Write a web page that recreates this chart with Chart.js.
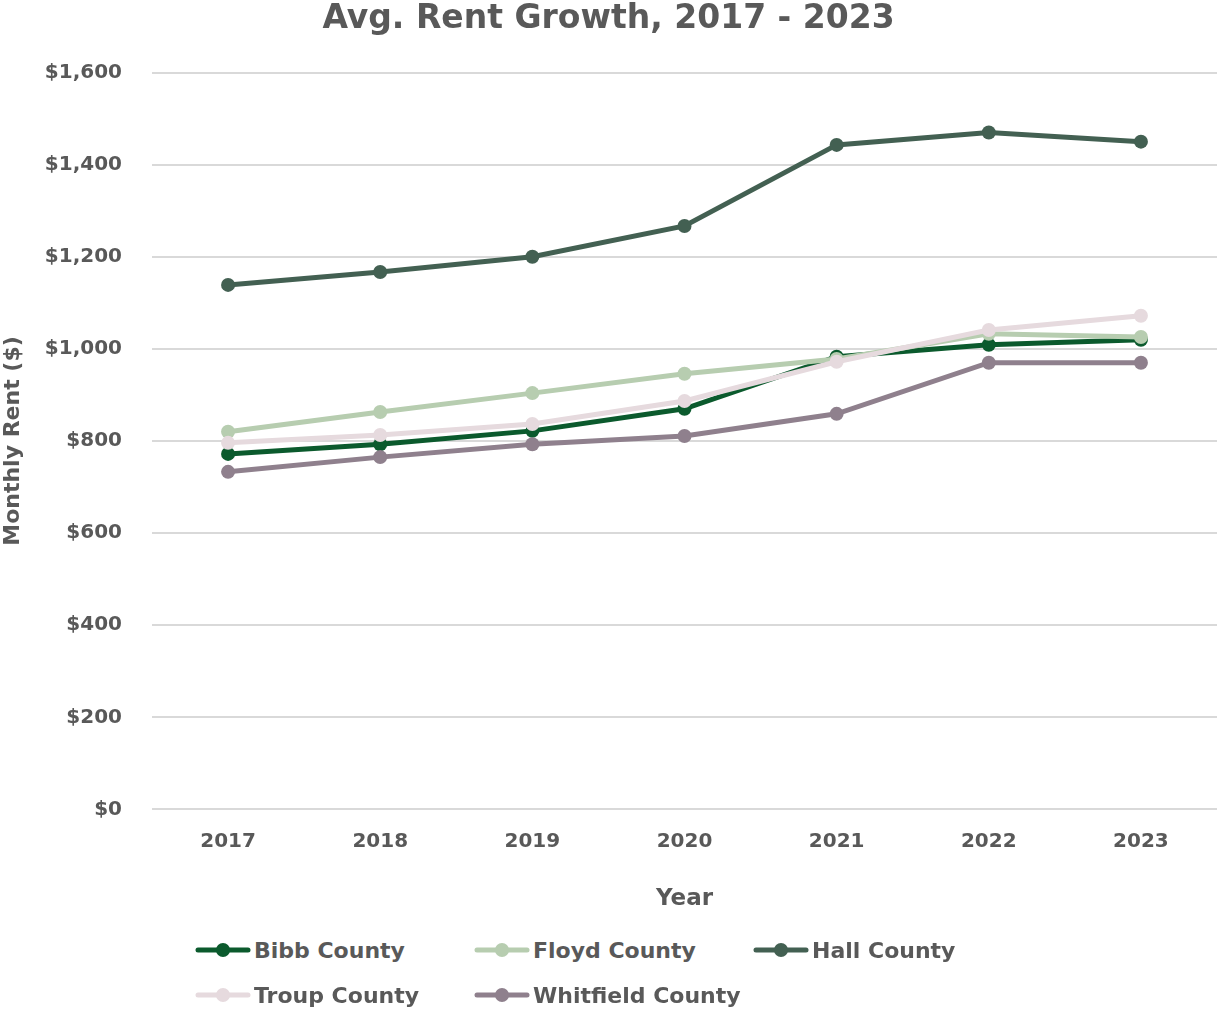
<!DOCTYPE html>
<html>
<head>
<meta charset="utf-8">
<script src="https://cdn.jsdelivr.net/npm/chart.js@4.4.1/dist/chart.umd.min.js"></script>
<style>
  html, body { margin: 0; padding: 0; background: #fff; overflow: hidden; }
  #wrap { position: relative; width: 1217px; height: 921px; }
  #legend {
    display: grid;
    grid-template-columns: 279px 279px 279px;
    row-gap: 13px;
    margin-left: 195px;
    margin-top: 13px;
    font-family: "DejaVu Sans", sans-serif;
    font-weight: 700;
    font-size: 22px;
    color: #595959;
  }
  #legend .item { display: flex; align-items: center; height: 32px; }
  #legend canvas { margin-right: 3px; }
</style>
</head>
<body>
<div id="wrap"><canvas id="rentChart"></canvas></div>
<div id="legend"></div>
<script>
const years = ['2017', '2018', '2019', '2020', '2021', '2022', '2023'];
const bibb = [772, 793, 822, 870, 983, 1009, 1020];
const floyd = [820, 863, 904, 946, 978, 1033, 1026];
const hall = [1139, 1167, 1200, 1267, 1443, 1470, 1450];
const troup = [796, 813, 837, 887, 972, 1041, 1072];
const whitfield = [733, 765, 793, 811, 859, 970, 970];
const yTicks = [0, 200, 400, 600, 800, 1000, 1200, 1400, 1600];

const textColor = '#595959';
const font = '"DejaVu Sans", sans-serif';

const mkSet = (label, data, color, order) => ({
    label, data,
    borderColor: color,
    backgroundColor: color,
    borderWidth: 5,
    pointRadius: 7,
    pointHoverRadius: 7,
    pointBorderWidth: 0,
    tension: 0,
    clip: false,
    order
});

// HTML legend: line + dot marker, laid out in columns like the original
const htmlLegend = {
    id: 'htmlLegend',
    afterUpdate(chart) {
        const box = document.getElementById('legend');
        box.innerHTML = '';
        chart.data.datasets.forEach(ds => {
            const item = document.createElement('div');
            item.className = 'item';
            const c = document.createElement('canvas');
            c.width = 56; c.height = 18;
            const g = c.getContext('2d');
            g.strokeStyle = ds.borderColor;
            g.lineWidth = 5;
            g.lineCap = 'round';
            g.beginPath(); g.moveTo(3, 9); g.lineTo(53, 9); g.stroke();
            g.fillStyle = ds.borderColor;
            g.beginPath(); g.arc(28, 9, 7, 0, Math.PI * 2); g.fill();
            const span = document.createElement('span');
            span.textContent = ds.label;
            item.appendChild(c);
            item.appendChild(span);
            box.appendChild(item);
        });
    }
};

new Chart(document.getElementById('rentChart'), {
    type: 'line',
    data: {
        labels: years,
        datasets: [
            mkSet('Bibb County', bibb, '#0b5a2d', 5),
            mkSet('Floyd County', floyd, '#b7cdb0', 4),
            mkSet('Hall County', hall, '#436052', 3),
            mkSet('Troup County', troup, '#e6dade', 2),
            mkSet('Whitfield County', whitfield, '#8f808d', 1)
        ]
    },
    options: {
        responsive: true,
        maintainAspectRatio: false,
        animation: false,
        layout: { autoPadding: false, padding: { left: 0, right: 0, top: 0, bottom: 8 } },
        plugins: {
            legend: { display: false },
            tooltip: { enabled: false },
            title: {
                display: true,
                text: 'Avg. Rent Growth, 2017 - 2023',
                color: textColor,
                font: { family: font, size: 33, weight: '700' },
                padding: { top: 0, bottom: 33 }
            }
        },
        scales: {
            x: {
                offset: true,
                grid: { display: false },
                border: { display: false },
                ticks: { color: textColor, padding: 12, font: { family: font, size: 20, weight: '700' } },
                title: {
                    display: true, text: 'Year', color: textColor,
                    padding: { top: 20, bottom: 0 },
                    font: { family: font, size: 23, weight: '700' }
                }
            },
            y: {
                min: 0,
                max: 1600,
                afterBuildTicks: axis => { axis.ticks = yTicks.map(v => ({ value: v })); },
                afterFit: axis => { axis.width = 152; },
                grid: { color: '#d9d9d9', lineWidth: 2, drawTicks: false },
                border: { display: false },
                ticks: {
                    color: textColor,
                    padding: 30,
                    font: { family: font, size: 20, weight: '700' },
                    callback: v => '$' + v.toLocaleString('en-US')
                },
                title: {
                    display: true, text: 'Monthly Rent ($)', color: textColor,
                    padding: { top: 0, bottom: 6 },
                    font: { family: font, size: 22, weight: '700' }
                }
            }
        }
    },
    plugins: [htmlLegend]
});
</script>
</body>
</html>
